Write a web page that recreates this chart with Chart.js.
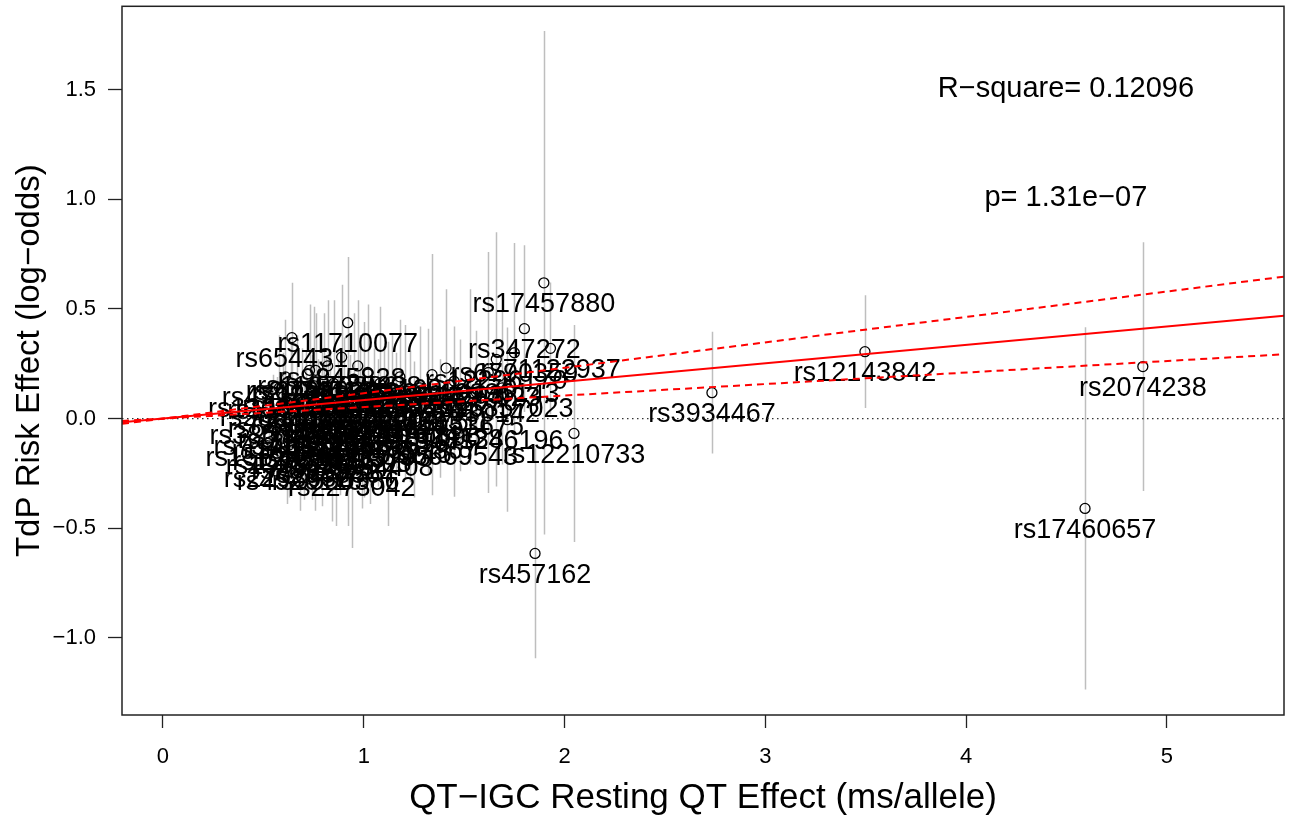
<!DOCTYPE html>
<html lang="en">
<head>
    <meta charset="UTF-8">
    <title>QT effect vs TdP risk</title>
    <script src="https://cdn.jsdelivr.net/npm/chart.js@4.4.1/dist/chart.umd.min.js"></script>
    <style>
        html, body { margin: 0; padding: 0; background: #fff; }
        #wrap { width: 1292px; height: 828px; }
    </style>
</head>
<body>
<div id="wrap"><canvas id="qtChart" width="1292" height="828"></canvas></div>
<script>
    // SNP effects: QT-IGC resting QT effect (x) vs TdP risk log-odds (y), with CI half-widths
    const snpIds = [
        'rs17457880', 'rs457162', 'rs2074238', 'rs17460657', 'rs12143842', 'rs3934467',
        'rs12210733', 'rs246196', 'rs347272', 'rs71122937', 'rs11710077', 'rs654431',
        'rs10994203', 'rs10994170', 'rs7812070', 'rs11597023', 'rs10996143', 'rs12296170',
        'rs16857023', 'rs2030142', 'rs4953675', 'rs6790359', 'rs6669543',
        'rs1562478', 'rs3857421', 'rs7341082', 'rs12061601', 'rs2880058', 'rs4725982',
        'rs2298632', 'rs1968753', 'rs6431205', 'rs1805128', 'rs11048012', 'rs4520116',
        'rs3026445', 'rs12753915', 'rs846111', 'rs2074518', 'rs4657178', 'rs10919070',
        'rs9892551', 'rs6793033', 'rs174583', 'rs1396515', 'rs8049607', 'rs12029454',
        'rs9920', 'rs11970286', 'rs1052536', 'rs2968864', 'rs735951', 'rs9530386',
        'rs4936200', 'rs16936870', 'rs9845828', 'rs10040989', 'rs3105593', 'rs6599230',
        'rs2273042', 'rs12576239', 'rs2485376', 'rs5755828', 'rs7188697', 'rs11129795',
        'rs17779747', 'rs4445091', 'rs8054408', 'rs2306604', 'rs10823016', 'rs1152591',
        'rs3934614', 'rs6793245', 'rs11153730', 'rs4261624', 'rs1733724', 'rs2229375',
        'rs10490696', 'rs7517867', 'rs1804096', 'rs1321311', 'rs7308138'
    ];
    const qtEffect = [
        1.897, 1.853, 4.880, 4.592, 3.496, 2.734,
        2.047, 1.715, 1.800, 1.930, 0.920, 0.642,
        1.34, 1.41, 1.45, 1.53, 1.62, 1.66,
        1.69, 1.56, 1.48, 1.75, 1.45,
        0.53, 0.55, 0.57, 0.58, 0.60, 0.61,
        0.62, 0.63, 0.64, 0.66, 0.67, 0.68,
        0.69, 0.70, 0.71, 0.73, 0.74, 0.75,
        0.757, 0.76, 0.77, 0.79, 0.79, 0.80,
        0.81, 0.82, 0.83, 0.84, 0.85, 0.86,
        0.87, 0.88, 0.89, 0.90, 0.92, 0.93,
        0.94, 0.95, 0.96, 0.97, 0.98, 0.99,
        1.00, 1.02, 1.03, 1.05, 1.07, 1.08,
        1.10, 1.12, 1.14, 1.16, 1.18, 1.205,
        1.23, 1.25, 1.28, 1.32, 1.38
    ];
    const tdpEffect = [
        0.619, -0.615, 0.237, -0.410, 0.305, 0.118,
        -0.068, -0.005, 0.410, 0.320, 0.437, 0.369,
        0.20, 0.23, 0.17, 0.19, 0.21, 0.27,
        0.14, 0.12, 0.06, 0.30, -0.077,
        -0.08, 0.02, -0.03, 0.14, 0.10, 0.19,
        -0.18, -0.12, 0.05, -0.05, 0.13, -0.19,
        0.00, -0.10, 0.08, 0.22, -0.04, 0.15,
        -0.14, 0.22, 0.03, -0.09, 0.11, 0.20,
        -0.01, 0.24, 0.07, -0.16, 0.16, -0.19,
        0.02, -0.06, 0.28, 0.10, -0.11, 0.05,
        -0.22, 0.18, -0.03, 0.24, 0.12, -0.08,
        0.04, 0.21, -0.13, 0.09, -0.02, 0.16,
        0.06, -0.07, 0.13, 0.02, 0.19, 0.077,
        0.01, -0.05, 0.14, 0.08, 0.00
    ];
    const tdpCiHalf = [
        1.148, 0.478, 0.567, 0.826, 0.257, 0.278,
        0.495, 0.42, 0.38, 0.30, 0.30, 0.25,
        0.55, 0.36, 0.25, 0.40, 0.55, 0.58,
        0.35, 0.28, 0.30, 0.50, 0.28,
        0.20, 0.18, 0.22, 0.24, 0.20, 0.26,
        0.21, 0.24, 0.30, 0.21, 0.25, 0.23,
        0.32, 0.27, 0.23, 0.30, 0.33, 0.36,
        0.28, 0.26, 0.24, 0.31, 0.21, 0.28,
        0.30, 0.30, 0.22, 0.31, 0.38, 0.30,
        0.25, 0.29, 0.33, 0.27, 0.38, 0.24,
        0.37, 0.30, 0.22, 0.30, 0.26, 0.33,
        0.40, 0.31, 0.26, 0.23, 0.29, 0.35,
        0.27, 0.42, 0.25, 0.28, 0.26, 0.35,
        0.30, 0.31, 0.28, 0.33, 0.27
    ];

    // regression line and its bounds, read at the two plot edges
    const fitX = [-0.204, 5.583];
    const fitY = [-0.017, 0.469];
    const upperY = [-0.024, 0.647];
    const lowerY = [-0.011, 0.293];

    const xTicks = [0, 1, 2, 3, 4, 5];
    const yTicks = [-1.0, -0.5, 0.0, 0.5, 1.0, 1.5];
    const X_MIN = -0.204, X_MAX = 5.583;
    const Y_MIN = -1.352, Y_MAX = 1.880;

    const statTexts = ['R\u2212square= 0.12096', 'p= 1.31e\u221207'];
    const statX = [4.497, 4.497];
    const statY = [1.503, 1.006];

    const FONT = '"Liberation Sans", Arial, Helvetica, sans-serif';

    const snpPlugin = {
        id: 'snpPlugin',
        beforeDatasetDraw(chart, args) {
            if (args.index !== 0) return;
            const {ctx, chartArea, scales} = chart;
            ctx.save();
            ctx.beginPath();
            ctx.rect(chartArea.left, chartArea.top, chartArea.right - chartArea.left, chartArea.bottom - chartArea.top);
            ctx.clip();
            ctx.strokeStyle = '#bebebe';
            ctx.lineWidth = 1.5;
            for (let i = 0; i < qtEffect.length; i++) {
                const px = Math.round(scales.x.getPixelForValue(qtEffect[i])) + 0.5;
                ctx.beginPath();
                ctx.moveTo(px, scales.y.getPixelForValue(tdpEffect[i] + tdpCiHalf[i]));
                ctx.lineTo(px, scales.y.getPixelForValue(tdpEffect[i] - tdpCiHalf[i]));
                ctx.stroke();
            }
            ctx.restore();
        },
        afterDatasetDraw(chart, args) {
            if (args.index !== 0) return;
            const {ctx, scales} = chart;
            ctx.save();
            ctx.fillStyle = '#000';
            ctx.font = '27px ' + FONT;
            ctx.textAlign = 'center';
            ctx.textBaseline = 'middle';
            for (let i = 0; i < snpIds.length; i++) {
                ctx.fillText(snpIds[i], scales.x.getPixelForValue(qtEffect[i]), scales.y.getPixelForValue(tdpEffect[i]) + 22);
            }
            ctx.restore();
        },
        afterDraw(chart) {
            const {ctx, chartArea, scales} = chart;
            ctx.save();
            ctx.fillStyle = '#000';
            ctx.font = '29px ' + FONT;
            ctx.textAlign = 'center';
            ctx.textBaseline = 'middle';
            statTexts.forEach((t, i) => {
                ctx.fillText(t, scales.x.getPixelForValue(statX[i]), scales.y.getPixelForValue(statY[i]));
            });
            // plot box
            ctx.strokeStyle = '#222';
            ctx.lineWidth = 1.5;
            ctx.strokeRect(chartArea.left, chartArea.top, chartArea.right - chartArea.left, chartArea.bottom - chartArea.top);
            ctx.restore();
        }
    };

    const ctx = document.getElementById('qtChart').getContext('2d');
    const chart = new Chart(ctx, {
        type: 'scatter',
        data: {
            datasets: [
                {
                    label: 'SNPs',
                    data: qtEffect.map((x, i) => ({x: x, y: tdpEffect[i]})),
                    pointStyle: 'circle',
                    pointRadius: 5,
                    pointBorderWidth: 1.3,
                    borderColor: '#000',
                    backgroundColor: 'rgba(0,0,0,0)',
                    order: 10
                },
                {
                    label: 'zero',
                    type: 'line',
                    data: [{x: X_MIN, y: 0}, {x: X_MAX, y: 0}],
                    borderColor: '#333',
                    borderWidth: 1.3,
                    borderDash: [1.5, 3.5],
                    pointRadius: 0,
                    order: 5
                },
                {
                    label: 'upper',
                    type: 'line',
                    data: fitX.map((x, i) => ({x: x, y: upperY[i]})),
                    borderColor: '#ff0000',
                    borderWidth: 2,
                    borderDash: [7, 5],
                    pointRadius: 0,
                    order: 3
                },
                {
                    label: 'lower',
                    type: 'line',
                    data: fitX.map((x, i) => ({x: x, y: lowerY[i]})),
                    borderColor: '#ff0000',
                    borderWidth: 2,
                    borderDash: [7, 5],
                    pointRadius: 0,
                    order: 2
                },
                {
                    label: 'fit',
                    type: 'line',
                    data: fitX.map((x, i) => ({x: x, y: fitY[i]})),
                    borderColor: '#ff0000',
                    borderWidth: 2,
                    pointRadius: 0,
                    order: 1
                }
            ]
        },
        options: {
            responsive: false,
            animation: false,
            events: [],
            layout: { padding: { left: 0, top: 5, right: 8, bottom: 0 } },
            plugins: { legend: { display: false }, tooltip: { enabled: false } },
            scales: {
                x: {
                    type: 'linear',
                    min: X_MIN,
                    max: X_MAX,
                    afterBuildTicks: s => { s.ticks = xTicks.map(v => ({value: v})); },
                    afterFit: s => { s.height = 113; s.paddingLeft = 0; s.paddingRight = 0; },
                    border: { display: false },
                    grid: { drawOnChartArea: false, drawTicks: true, tickLength: 13, tickWidth: 1.3, tickColor: '#222' },
                    ticks: { color: '#000', font: { family: FONT, size: 22 }, padding: 16, maxRotation: 0, callback: v => String(v) },
                    title: {
                        display: true,
                        text: 'QT\u2212IGC Resting QT Effect (ms/allele)',
                        color: '#000',
                        font: { family: FONT, size: 35 },
                        padding: { top: 9, bottom: 9 }
                    }
                },
                y: {
                    type: 'linear',
                    min: Y_MIN,
                    max: Y_MAX,
                    afterBuildTicks: s => { s.ticks = yTicks.map(v => ({value: v})); },
                    afterFit: s => { s.width = 122; s.paddingTop = 0; s.paddingBottom = 0; },
                    border: { display: false },
                    grid: { drawOnChartArea: false, drawTicks: true, tickLength: 14, tickWidth: 1.3, tickColor: '#222' },
                    ticks: {
                        color: '#000',
                        font: { family: FONT, size: 22 },
                        padding: 12,
                        callback: v => (v < 0 ? '\u2212' : '') + Math.abs(v).toFixed(1)
                    },
                    title: {
                        display: true,
                        text: 'TdP Risk Effect (log\u2212odds)',
                        color: '#000',
                        font: { family: FONT, size: 33 },
                        padding: { top: 10, bottom: 10 }
                    }
                }
            }
        },
        plugins: [snpPlugin]
    });
</script>
</body>
</html>
